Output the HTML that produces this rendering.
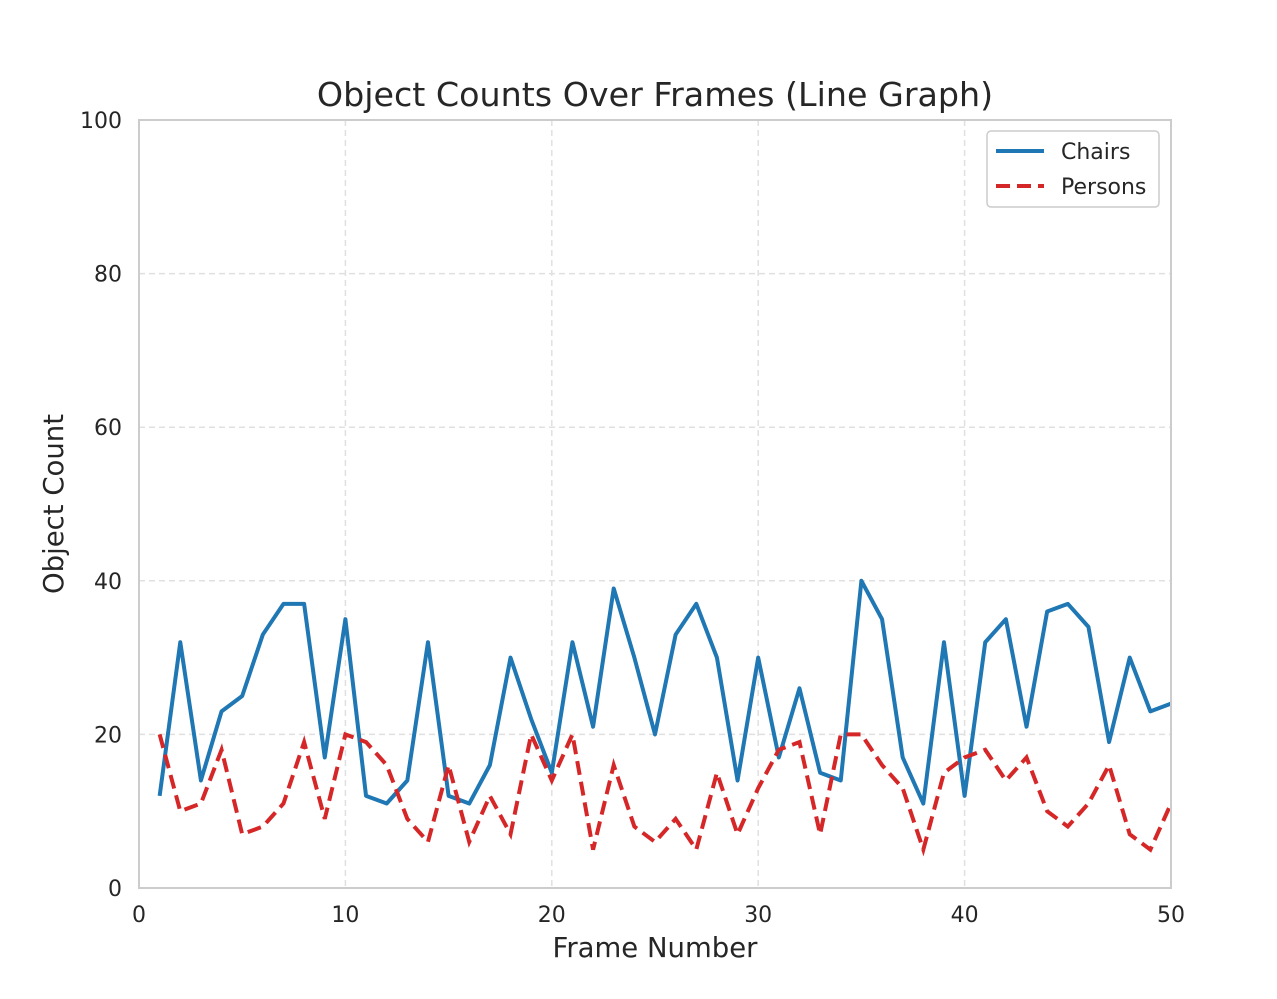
<!DOCTYPE html>
<html><head><meta charset="utf-8"><style>
html,body{margin:0;padding:0;background:#fff;}
svg{display:block;font-family:"DejaVu Sans","Liberation Sans",sans-serif;}
</style></head><body>
<svg id="chart" width="1277" height="999">
<rect width="1277" height="999" fill="#fff"/>
<g id="grid"></g>
<g id="series"></g>
<rect x="139" y="120" width="1032" height="768" fill="none" stroke="#cccccc" stroke-width="2"/>
<g id="ticks"></g>
<text x="655" y="106" text-anchor="middle" font-size="33.3" fill="#262626">Object Counts Over Frames (Line Graph)</text>
<text x="655" y="957" text-anchor="middle" font-size="27.5" fill="#262626">Frame Number</text>
<text transform="translate(63,504) rotate(-90)" text-anchor="middle" font-size="27.5" fill="#262626">Object Count</text>
<g>
<rect x="987" y="131" width="172" height="76" rx="4" fill="#fff" fill-opacity="0.8" stroke="#cccccc" stroke-width="1.5"/>
<line x1="996" y1="151" x2="1044" y2="151" stroke="#1f77b4" stroke-width="4"/>
<text x="1061" y="159" font-size="22" fill="#262626">Chairs</text>
<line x1="996" y1="186" x2="1044" y2="186" stroke="#d62728" stroke-width="4" stroke-dasharray="14,7"/>
<text x="1061" y="194" font-size="22" fill="#262626">Persons</text>
</g>
</svg>
<script>
const frames = Array.from({length:50},(_,i)=>i+1);
const chairs = [12,32,14,23,25,33,37,37,17,35,12,11,14,32,12,11,16,30,22,15,32,21,39,30,20,33,37,30,14,30,17,26,15,14,40,35,17,11,32,12,32,35,21,36,37,34,19,30,23,24];
const persons = [20,10,11,18,7,8,11,19,9,20,19,16,9,6,16,6,12,7,20,14,20,5,16,8,6,9,5,15,7,13,18,19,7,20,20,16,13,5,15,17,18,14,17,10,8,11,16,7,5,11];
const xTicks = [0,10,20,30,40,50];
const yTicks = [0,20,40,60,80,100];
const NS="http://www.w3.org/2000/svg";
const X=v=>139+v*(1032/50);
const Y=v=>888-v*(768/100);
const grid=document.getElementById('grid'), ticks=document.getElementById('ticks'), series=document.getElementById('series');
function mk(tag,attrs,parent){const e=document.createElementNS(NS,tag);for(const k in attrs)e.setAttribute(k,attrs[k]);parent.appendChild(e);return e;}
xTicks.forEach(t=>{
  const l=mk('line',{x1:X(t),x2:X(t),y1:120,y2:888,stroke:'#e0e0e0','stroke-width':1.5,'stroke-dasharray':'6,4'},grid);
  
  
  const tx=mk('text',{x:X(t),y:922,'text-anchor':'middle','font-size':22,fill:'#262626'},ticks);
  tx.textContent=t;
  
  
});
yTicks.forEach(t=>{
  const l=mk('line',{x1:139,x2:1171,y1:Y(t),y2:Y(t),stroke:'#e0e0e0','stroke-width':1.5,'stroke-dasharray':'6,4'},grid);
  
  
  const tx=mk('text',{x:122,y:Y(t)+8,'text-anchor':'end','font-size':22,fill:'#262626'},ticks);
  tx.textContent=t;
  
  
});
const pc=mk('polyline',{points:frames.map((f,i)=>X(f)+','+Y(chairs[i])).join(' '),fill:'none',stroke:'#1f77b4','stroke-width':4,'stroke-linejoin':'round'},series);


const pp=mk('polyline',{points:frames.map((f,i)=>X(f)+','+Y(persons[i])).join(' '),fill:'none',stroke:'#d62728','stroke-width':4,'stroke-dasharray':'14,7'},series);


</script>
</body></html>
